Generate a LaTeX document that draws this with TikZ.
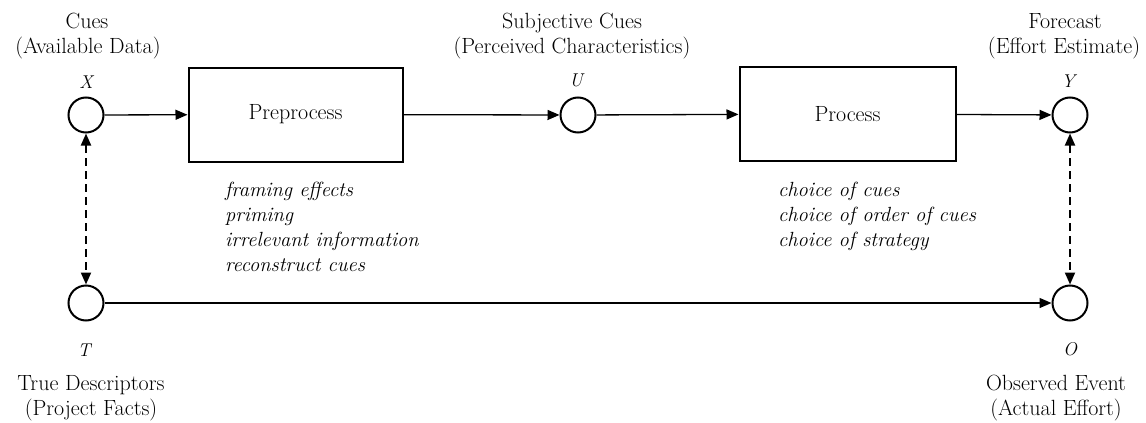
\documentclass[tikz,border=0pt]{standalone}
\usetikzlibrary{arrows.meta}
\begin{document}
\begin{tikzpicture}[x=1pt,y=-1pt,
  lbl/.style={font=\fontsize{22}{25}\selectfont, inner sep=0pt, anchor=base},
  var/.style={font=\fontsize{18.5}{22}\selectfont\itshape, inner sep=0pt, anchor=base},
  lst/.style={font=\fontsize{20.5}{25}\selectfont\itshape, inner sep=0pt, anchor=base west},
  circ/.style={circle, draw, line width=2pt, minimum size=35pt, inner sep=0pt},
  procbox/.style={draw, line width=2pt, minimum width=214pt, minimum height=94pt, inner sep=0pt, font=\fontsize{22}{25}\selectfont},
  conn/.style={line width=1.3pt, -{Triangle[length=12pt,width=10pt]}},
  dconn/.style={line width=2pt, dash pattern=on 8pt off 5pt, {Triangle[length=12pt,width=10pt]}-{Triangle[length=12pt,width=10pt]}}]
\useasboundingbox (0,0) rectangle (1146,423);

% circles
\node[circ] (X) at (86,115) {};
\node[circ] (U) at (578,115) {};
\node[circ] (Y) at (1070,115) {};
\node[circ] (T) at (86,303) {};
\node[circ] (O) at (1070,303) {};

% boxes
\node[procbox] (pre) at (295.5,114.5) {Preprocess};
\node[procbox, minimum width=216pt] (proc) at (847.5,114) {Process};

% top labels
\node[lbl] (cues1) at (87,28) {Cues};
\node[lbl] (cues2) at (88,53) {(Available Data)};
\node[var] (Xl) at (86,88) {X};
\node[lbl] (sc1) at (572,28) {Subjective Cues};
\node[lbl] (sc2) at (572,53) {(Perceived Characteristics)};
\node[var] (Ul) at (576,86) {U};
\node[lbl] (fc1) at (1065,28) {Forecast};
\node[lbl] (fc2) at (1064,53) {(Effort Estimate)};
\node[var] (Yl) at (1068,87) {Y};

% bottom labels
\node[var] (Tl) at (84,356) {T};
\node[lbl] (td1) at (91,390) {True Descriptors};
\node[lbl] (td2) at (91,415) {(Project Facts)};
\node[var] (Ol) at (1070,355) {O};
\node[lbl] (oe1) at (1056,390) {Observed Event};
\node[lbl] (oe2) at (1056,415) {(Actual Effort)};

% lists
\node[lst] (l11) at (225,196) {framing effects};
\node[lst] (l12) at (225,221) {priming};
\node[lst] (l13) at (225,246) {irrelevant information};
\node[lst] (l14) at (225,271) {reconstruct cues};
\node[lst] (l21) at (778,196) {choice of cues};
\node[lst] (l22) at (778,221) {choice of order of cues};
\node[lst] (l23) at (778,246) {choice of strategy};

% connectors
\draw[conn] (X) -- (pre);
\draw[conn] (pre) -- (U);
\draw[conn] (U) -- (proc);
\draw[conn] (proc) -- (Y);
\draw[conn] (T) -- (O);
\draw[dconn] (X) -- (T);
\draw[dconn] (Y) -- (O);
\end{tikzpicture}
\end{document}
